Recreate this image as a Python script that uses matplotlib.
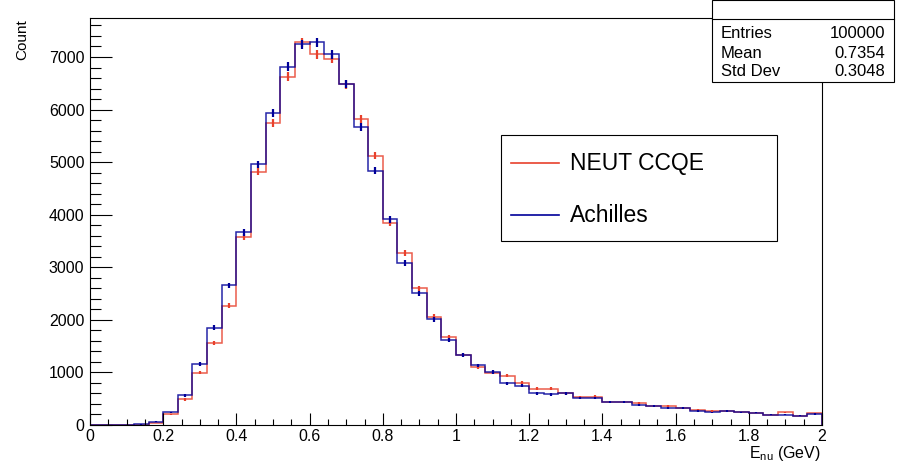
import numpy as np
import matplotlib
matplotlib.use("Agg")
import matplotlib.pyplot as plt
from matplotlib.patches import Rectangle
from matplotlib.lines import Line2D

plt.rcParams['font.family'] = ['Liberation Sans', 'DejaVu Sans']
plt.rcParams['mathtext.fontset'] = 'custom'
plt.rcParams['mathtext.rm'] = 'Liberation Sans'

# 50 bins of 0.04 GeV from 0 to 2 GeV
bin_edges = np.linspace(0.0, 2.0, 51)

neut_ccqe = [0, 0, 0, 5, 40, 203, 488, 995, 1553, 2264,
             3582, 4819, 5751, 6626, 7280, 7052, 6962, 6480, 5827, 5123,
             3849, 3266, 2600, 2060, 1668, 1340, 1097, 995, 938, 805,
             691, 691, 603, 527, 540, 438, 440, 425, 355, 361,
             317, 285, 260, 260, 241, 235, 197, 241, 178, 222]

achilles = [0, 0, 0, 10, 63, 240, 565, 1160, 1851, 2657,
            3665, 4959, 5941, 6816, 7242, 7280, 7052, 6487, 5675, 4838,
            3913, 3076, 2505, 2011, 1617, 1337, 1136, 1008, 793, 748,
            603, 584, 603, 514, 514, 432, 444, 380, 355, 330,
            317, 273, 241, 273, 241, 235, 197, 197, 178, 210]

stats_labels = ["Entries", "Mean", "Std Dev"]
stats_values = ["100000", "0.7354", "0.3048"]

red = '#e8412c'
blue = '#000099'

fig = plt.figure(figsize=(9, 4.66), dpi=100)
ax = fig.add_axes([90/900, 1-425/466, (822-90)/900, (425-18)/466])

centers = 0.5*(bin_edges[:-1] + bin_edges[1:])
for vals, col in [(neut_ccqe, red), (achilles, blue)]:
    v = np.array(vals, dtype=float)
    ax.stairs(v, bin_edges, color=col, lw=1.1, alpha=0.85)
    m = v > 0
    ax.errorbar(centers[m], v[m], yerr=np.sqrt(v[m]), fmt='none',
                ecolor=col, elinewidth=1.6)

ax.set_xlim(0, 2)
ax.set_ylim(0, 7742)
ax.set_xticks(np.arange(0, 2.01, 0.2))
ax.set_xticklabels(["0", "0.2", "0.4", "0.6", "0.8", "1", "1.2", "1.4", "1.6", "1.8", "2"])
ax.set_xticks(np.arange(0, 2.001, 0.05), minor=True)
ax.set_yticks(np.arange(0, 7001, 1000))
ax.set_yticks(np.arange(0, 7701, 200), minor=True)
ax.tick_params(axis='both', which='both', direction='in', labelsize=11.5, width=0.8)
ax.tick_params(axis='y', which='major', length=16, pad=4)
ax.tick_params(axis='y', which='minor', length=8)
ax.tick_params(axis='x', which='major', length=9, pad=3)
ax.tick_params(axis='x', which='minor', length=4.5)
for s in ax.spines.values():
    s.set_linewidth(0.8)

fig.text(22/900, 1-19/466, "Count", rotation=90, ha='center', va='top', fontsize=11)
fig.text(821/900, 1-444/466, r"E$_{\rm nu}$ (GeV)", ha='right', va='top', fontsize=11.5)

# legend box
lx0, lx1, ly0, ly1 = 501, 777, 135, 241
fig.patches.append(Rectangle((lx0/900, 1-ly1/466), (lx1-lx0)/900, (ly1-ly0)/466,
                             transform=fig.transFigure, fc='white', ec='black', lw=0.8))
for label, col, yy in [("NEUT CCQE", red, 163), ("Achilles", blue, 215)]:
    fig.lines.append(Line2D([511/900, 559/900], [1-yy/466]*2, transform=fig.transFigure,
                            color=col, lw=1.2))
    fig.text(570/900, 1-yy/466, label, ha='left', va='center', fontsize=16.5)

# stats box
sx0, sx1, sy0, sy1 = 712, 894, 0.5, 82
fig.patches.append(Rectangle((sx0/900, 1-sy1/466), (sx1-sx0)/900, (sy1-sy0)/466,
                             transform=fig.transFigure, fc='white', ec='black', lw=0.8))
fig.lines.append(Line2D([sx0/900, sx1/900], [1-19/466]*2, transform=fig.transFigure,
                        color='black', lw=0.8))
for lab, val, yy in zip(stats_labels, stats_values, [33, 53, 72]):
    fig.text(721/900, 1-yy/466, lab, ha='left', va='center', fontsize=12)
    fig.text(885/900, 1-yy/466, val, ha='right', va='center', fontsize=12)

fig.savefig("out.png", dpi=100)
